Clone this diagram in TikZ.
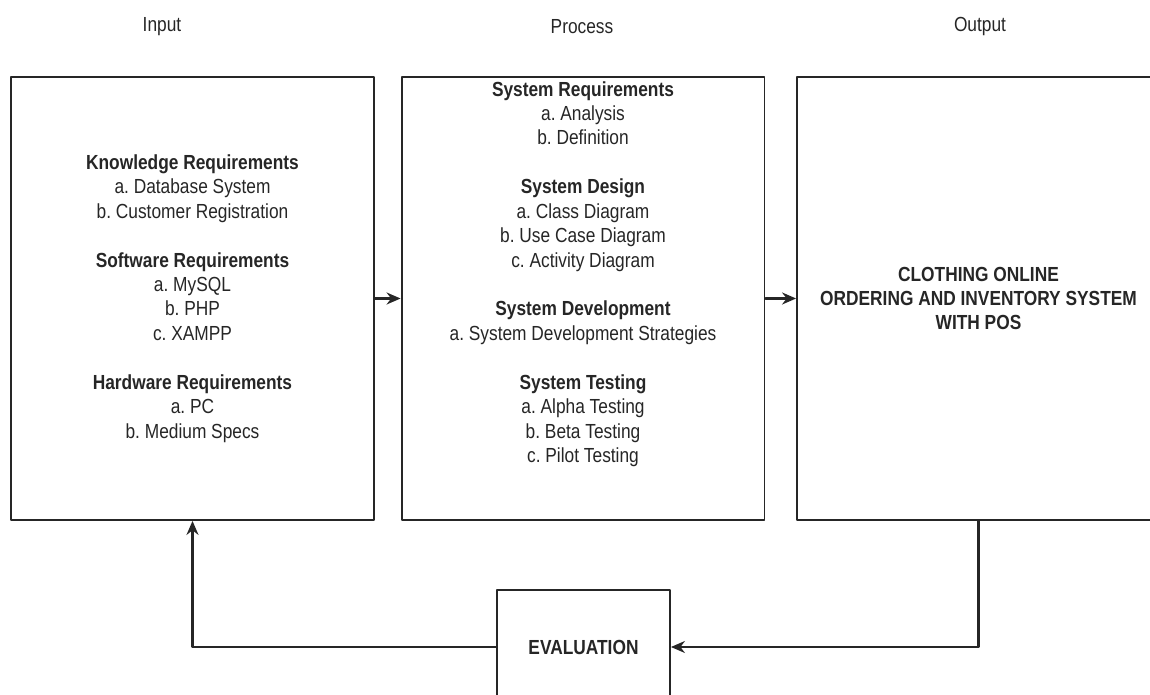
\documentclass[tikz,border=0pt]{standalone}
\usepackage{fontspec}
\setmainfont{Liberation Sans}[FakeStretch=0.85]
\usetikzlibrary{arrows.meta}
\frenchspacing

\begin{document}
\begin{tikzpicture}[x=0.02cm, y=-0.02cm, line join=round, line cap=round,
	>={Stealth[length=2.8mm, width=2.4mm]},
	font=\fontsize{11.6}{13.9}\selectfont, text=black!85,
	box/.style={draw=black!85, line width=1.1pt, inner sep=0pt, minimum width=7.26cm, minimum height=8.86cm, align=center},
	txt/.style={align=center, inner sep=0pt},
	link/.style={->, draw=black!85, line width=1.2pt}]
	\useasboundingbox (0,0) rectangle (1150,695);
	\clip (0,0) rectangle (1150,695);
	% headers
	\node[txt] (hin) at (162,27) {Input};
	\node[txt] (hproc) at (582,27) {Process};
	\node[txt] (hout) at (980,27) {Output};
	% boxes
	\node[box] (inbox) at (192.5,298.5) {\textbf{Knowledge Requirements}\\
		a. Database System\\
		b. Customer Registration\\[13.9pt]
		\textbf{Software Requirements}\\
		a. MySQL\\
		b. PHP\\
		c. XAMPP\\[13.9pt]
		\textbf{Hardware Requirements}\\
		a. PC\\
		b. Medium Specs};
	\node[box] (procbox) at (583,298.5) {};
	\node[txt] (proctxt) at (583,274) {\textbf{System Requirements}\\
		a. Analysis\\
		b. Definition\\[13.9pt]
		\textbf{System Design}\\
		a. Class Diagram\\
		b. Use Case Diagram\\
		c. Activity Diagram\\[13.9pt]
		\textbf{System Development}\\
		a. System Development Strategies\\[13.9pt]
		\textbf{System Testing}\\
		a. Alpha Testing\\
		b. Beta Testing\\
		c. Pilot Testing};
	\node[box] (outbox) at (978.5,298.5) {\textbf{CLOTHING ONLINE}\\
		\textbf{ORDERING AND INVENTORY SYSTEM}\\
		\textbf{WITH POS}};
	\node[box, minimum width=3.46cm, minimum height=2.28cm] (evalbox) at (583.5,647) {\textbf{EVALUATION}};
	% arrows
	\draw[link] (inbox.east) -- (procbox.west);
	\draw[link] (procbox.east) -- (outbox.west);
	\draw[link] (outbox.south) |- (evalbox.east);
	\draw[link] (evalbox.west) -| (inbox.south);
\end{tikzpicture}
\end{document}
